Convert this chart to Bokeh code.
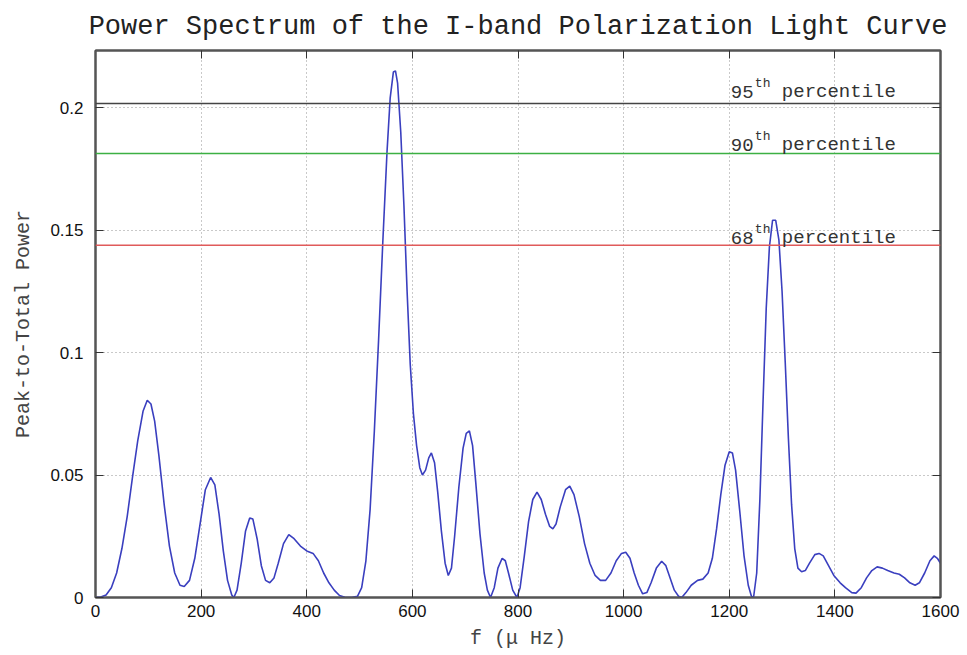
from bokeh.plotting import figure
from bokeh.models import FixedTicker, LinearAxis, NumeralTickFormatter, Range1d, Span, Label
from bokeh.embed import file_html
from bokeh.resources import INLINE

# ---- data ----
freq = [0, 10, 20, 30, 40, 50, 60, 70, 80, 90, 98, 105, 112, 120, 130, 140, 150, 160, 168,
        178, 188, 198, 208, 218, 226, 234, 242, 250, 258, 262, 268, 276, 284, 292, 298, 306,
        314, 322, 330, 338, 346, 356, 366, 376, 388, 400, 412, 422, 432, 442, 452, 462, 472,
        485, 496, 504, 512, 520, 528, 536, 544, 552, 558, 564, 568, 572, 578, 584, 590, 596,
        602, 608, 614, 619, 625, 631, 636, 642, 648, 655, 662, 668, 674, 680, 688, 696, 702,
        708, 714, 720, 728, 736, 742, 748, 755, 762, 770, 776, 782, 790, 798, 804, 812, 820,
        828, 836, 844, 852, 860, 866, 872, 880, 890, 898, 906, 916, 926, 936, 946, 956, 966,
        976, 986, 996, 1004, 1012, 1020, 1028, 1036, 1044, 1052, 1062, 1072, 1080, 1088, 1096,
        1104, 1110, 1118, 1128, 1140, 1150, 1160, 1168, 1176, 1184, 1192, 1200, 1206, 1212,
        1220, 1228, 1236, 1242, 1246, 1252, 1258, 1264, 1270, 1276, 1282, 1288, 1294, 1300,
        1306, 1312, 1318, 1324, 1330, 1337, 1344, 1352, 1362, 1370, 1378, 1388, 1398, 1410,
        1420, 1432, 1440, 1450, 1460, 1470, 1480, 1490, 1500, 1512, 1522, 1532, 1542, 1552,
        1560, 1570, 1580, 1588, 1594, 1600]
power = [0.000, 0.0002, 0.001, 0.004, 0.010, 0.020, 0.033, 0.049, 0.064, 0.076, 0.0805, 0.079,
         0.072, 0.058, 0.038, 0.021, 0.010, 0.005, 0.0045, 0.007, 0.016, 0.030, 0.044, 0.049,
         0.046, 0.034, 0.019, 0.007, 0.001, 0.000, 0.003, 0.014, 0.027, 0.0325, 0.032, 0.024,
         0.013, 0.007, 0.006, 0.008, 0.014, 0.022, 0.0257, 0.024, 0.021, 0.019, 0.018, 0.015,
         0.010, 0.006, 0.003, 0.0008, 0.0001, 0.000, 0.0005, 0.004, 0.015, 0.036, 0.068, 0.105,
         0.145, 0.182, 0.204, 0.2145, 0.215, 0.210, 0.190, 0.160, 0.125, 0.095, 0.075, 0.062,
         0.053, 0.050, 0.052, 0.057, 0.059, 0.055, 0.043, 0.027, 0.014, 0.009, 0.012, 0.025,
         0.045, 0.061, 0.067, 0.068, 0.062, 0.047, 0.026, 0.010, 0.003, 0.000, 0.004, 0.012,
         0.016, 0.015, 0.010, 0.003, 0.000, 0.004, 0.017, 0.031, 0.040, 0.043, 0.040, 0.034,
         0.029, 0.028, 0.030, 0.037, 0.044, 0.0455, 0.042, 0.033, 0.022, 0.014, 0.009, 0.007,
         0.007, 0.010, 0.015, 0.018, 0.0185, 0.016, 0.010, 0.005, 0.0015, 0.002, 0.006, 0.012,
         0.0148, 0.013, 0.008, 0.003, 0.0005, 0.000, 0.002, 0.005, 0.007, 0.0075, 0.010, 0.016,
         0.028, 0.042, 0.054, 0.0595, 0.059, 0.052, 0.035, 0.017, 0.005, 0.0005, 0.000, 0.010,
         0.040, 0.080, 0.118, 0.143, 0.154, 0.154, 0.146, 0.125, 0.096, 0.065, 0.038, 0.020,
         0.012, 0.0105, 0.011, 0.014, 0.0175, 0.018, 0.017, 0.013, 0.009, 0.006, 0.004, 0.002,
         0.0018, 0.004, 0.008, 0.011, 0.0125, 0.012, 0.011, 0.010, 0.0095, 0.008, 0.006, 0.005,
         0.006, 0.010, 0.015, 0.017, 0.016, 0.014]

x_ticks = [0, 200, 400, 600, 800, 1000, 1200, 1400, 1600]
y_ticks = [0, 0.05, 0.1, 0.15, 0.2]

pct_names = ["95", "90", "68"]
pct_levels = [0.2017, 0.1813, 0.1438]
pct_colors = ["#444444", "#3cb043", "#e05a5a"]
pct_label_dy = [11, 8, 7]
label_f = 1203

MONO = "Liberation Mono"
SANS = "Liberation Sans"

p = figure(width=960, height=652, output_backend="svg", toolbar_location=None,
           x_range=Range1d(0, 1600), y_range=Range1d(0, 0.2233),
           min_border_left=95, min_border_right=20, min_border_top=49, min_border_bottom=55,
           title="Power Spectrum of the I-band Polarization Light Curve")

p.title.text_font = MONO
p.title.text_font_size = "27px"
p.title.text_font_style = "normal"
p.title.text_color = "#222222"
p.title.align = "center"
p.title.offset = 0
p.title.standoff = 18

p.outline_line_color = "#555555"
p.outline_line_width = 2
p.background_fill_color = "white"
p.border_fill_color = "white"

for ax in (p.xaxis[0], p.yaxis[0]):
    ax.major_tick_in = 8
    ax.major_tick_out = 0
    ax.minor_tick_line_color = None
    ax.axis_line_color = "#555555"
    ax.axis_line_width = 2
    ax.major_tick_line_color = "#333333"
    ax.major_label_text_font = SANS
    ax.major_label_text_font_size = "17px"
    ax.major_label_text_color = "#111111"
    ax.axis_label_text_font = MONO
    ax.axis_label_text_font_size = "20px"
    ax.axis_label_text_font_style = "normal"
    ax.axis_label_text_color = "#444444"

p.xaxis[0].ticker = FixedTicker(ticks=x_ticks, minor_ticks=[])
p.yaxis[0].ticker = FixedTicker(ticks=y_ticks, minor_ticks=[])
p.yaxis[0].formatter = NumeralTickFormatter(format="0.[00]")
p.xaxis[0].axis_label = "f (\u03bc Hz)"
p.yaxis[0].axis_label = "Peak-to-Total Power"
p.xaxis[0].major_label_standoff = 7
p.yaxis[0].major_label_standoff = 12
p.xaxis[0].axis_label_standoff = 7
p.yaxis[0].axis_label_standoff = 12

# mirrored ticks (top and right), labels not drawn
top = LinearAxis(ticker=FixedTicker(ticks=x_ticks, minor_ticks=[]))
right = LinearAxis(ticker=FixedTicker(ticks=y_ticks, minor_ticks=[]))
for ax in (top, right):
    ax.major_tick_in = 8
    ax.major_tick_out = 0
    ax.minor_tick_line_color = None
    ax.major_label_text_color = None
    ax.major_label_text_font_size = "1px"
    ax.major_label_standoff = 0
    ax.axis_line_color = "#555555"
    ax.axis_line_width = 2
    ax.major_tick_line_color = "#333333"
p.add_layout(top, "above")
p.add_layout(right, "right")

for g in (p.xgrid[0], p.ygrid[0]):
    g.grid_line_color = "#888888"
    g.grid_line_dash = "1 3"
    g.grid_line_width = 1
    g.grid_line_alpha = 0.9
p.xgrid[0].ticker = FixedTicker(ticks=x_ticks)
p.ygrid[0].ticker = FixedTicker(ticks=y_ticks)

# percentile lines and labels
for name, lev, col, dy in zip(pct_names, pct_levels, pct_colors, pct_label_dy):
    p.add_layout(Span(location=lev, dimension="width", line_color=col, line_width=1.5))
    p.add_layout(Label(x=label_f, y=lev, y_offset=dy, text=name, text_font=MONO,
                       text_font_size="19px", text_color="#333333", text_baseline="alphabetic"))
    p.add_layout(Label(x=label_f, y=lev, x_offset=24, y_offset=dy + 9, text="th", text_font=MONO,
                       text_font_size="13px", text_color="#333333", text_baseline="alphabetic"))
    p.add_layout(Label(x=label_f, y=lev, x_offset=51, y_offset=dy, text="percentile", text_font=MONO,
                       text_font_size="19px", text_color="#333333", text_baseline="alphabetic"))

p.line(freq, power, line_color="#3a3fbf", line_width=1.6)

open("out.html", "w").write(file_html(p, INLINE))
